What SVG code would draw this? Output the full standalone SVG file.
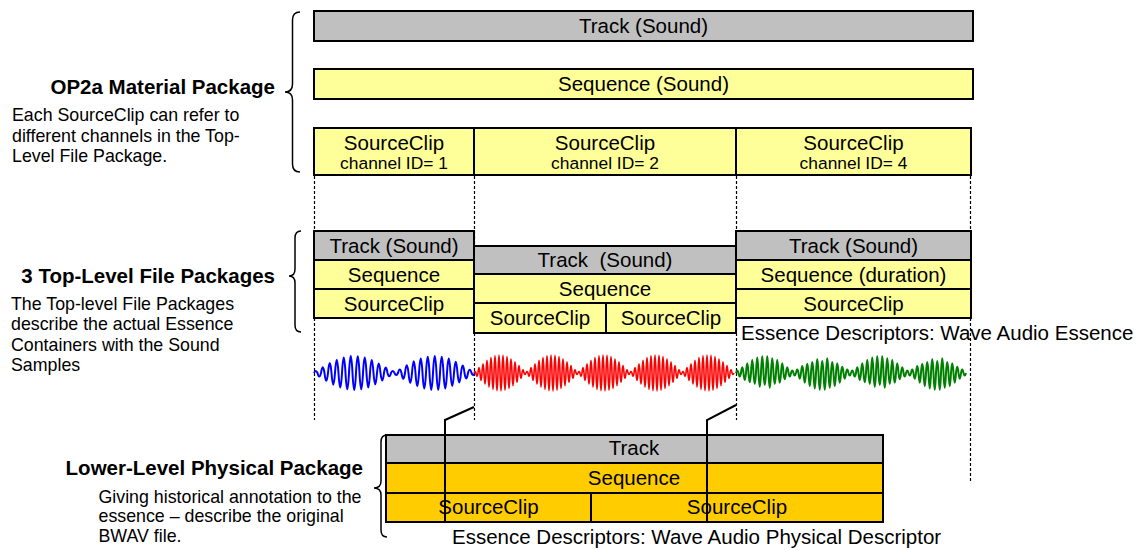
<svg xmlns="http://www.w3.org/2000/svg" width="1143" height="550" viewBox="0 0 1143 550">
<style>
.g{fill:#C0C0C0;stroke:#000;stroke-width:2}
.y{fill:#FFFF99;stroke:#000;stroke-width:2}
.o{fill:#FFCC00;stroke:#000;stroke-width:2}
.t{font-family:"Liberation Sans",Arial,sans-serif;font-size:20.5px;fill:#000;text-anchor:middle}
.s{font-family:"Liberation Sans",Arial,sans-serif;font-size:17.4px;fill:#000;text-anchor:middle}
.h{font-family:"Liberation Sans",Arial,sans-serif;font-size:20.5px;font-weight:bold;fill:#000;text-anchor:end}
.b{font-family:"Liberation Sans",Arial,sans-serif;font-size:17.8px;fill:#000}
.e{font-family:"Liberation Sans",Arial,sans-serif;font-size:20.5px;fill:#000}
.br{fill:none;stroke:#000;stroke-width:1.5}
.d{fill:none;stroke:#000;stroke-width:1.2;stroke-dasharray:3,2}
.k{fill:none;stroke:#000;stroke-width:2}
.w{fill:none;stroke-width:2;stroke-linejoin:round}
</style>
<defs>
<path id="hb" d="M0,0 q1.75,-4 3.5,0 q1.75,7 3.5,0 q1.75,-11.5 3.5,0 q1.75,15.7 3.5,0 q1.75,-19.8 3.5,0 q1.75,23.4 3.5,0 q1.75,-26.6 3.5,0 q1.75,29.1 3.5,0 q1.75,-31.2 3.5,0 q1.75,32.7 3.5,0 q1.75,-33.8 3.5,0 q1.75,34 3.5,0 q1.75,-33.6 3.5,0 q1.75,32.7 3.5,0 q1.75,-31 3.5,0 q1.75,28.9 3.5,0 q1.75,-26.1 3.5,0 q1.75,22.7 3.5,0 q1.75,-19.1 3.5,0 q1.75,15.1 3.5,0 q1.75,-10.8 3.5,0 q1.75,6.4 3.5,0 q1.75,-4 3.5,0"/>
<path id="hr" d="M0,0 q1,-3 2,0 q1,6.5 2,0 q1,-10.7 2,0 q1,14.8 2,0 q1,-18.6 2,0 q1,22.2 2,0 q1,-25.5 2,0 q1,28.3 2,0 q1,-30.8 2,0 q1,32.8 2,0 q1,-34.4 2,0 q1,35.4 2,0 q1,-35.9 2,0 q1,35.9 2,0 q1,-35.4 2,0 q1,34.4 2,0 q1,-32.8 2,0 q1,30.8 2,0 q1,-28.3 2,0 q1,25.5 2,0 q1,-22.2 2,0 q1,18.6 2,0 q1,-14.8 2,0 q1,10.7 2,0 q1,-6.5 2,0 q1,3 2,0"/>
<path id="hg" d="M0,0 q1.25,-5 2.5,0 q1.25,6.9 2.5,0 q1.25,-11.4 2.5,0 q1.25,14.1 2.5,0 q1.25,-19.6 2.5,0 q1.25,18.6 2.5,0 q1.25,-26.4 2.5,0 q1.25,21.8 2.5,0 q1.25,-31.2 2.5,0 q1.25,27.8 2.5,0 q1.25,-33.7 2.5,0 q1.25,23.8 2.5,0 q1.25,-33.7 2.5,0 q1.25,29.4 2.5,0 q1.25,-29.6 2.5,0 q1.25,21.8 2.5,0 q1.25,-26.4 2.5,0 q1.25,19.7 2.5,0 q1.25,-19.6 2.5,0 q1.25,12.5 2.5,0 q1.25,-11.4 2.5,0 q1.25,6.9 2.5,0 q1.25,-5 2.5,0"/>
</defs>
<rect width="1143" height="550" fill="#fff"/>

<g id="connectors">
<line class="d" x1="314.5" y1="176" x2="314.5" y2="231"/>
<line class="d" x1="314.5" y1="318" x2="314.5" y2="420"/>
<line class="d" x1="474.5" y1="176" x2="474.5" y2="246"/>
<line class="d" x1="474.5" y1="333" x2="474.5" y2="420"/>
<line class="d" x1="736.5" y1="176" x2="736.5" y2="231"/>
<line class="d" x1="736.5" y1="318" x2="736.5" y2="420"/>
<line class="d" x1="970.5" y1="176" x2="970.5" y2="231"/>
<line class="d" x1="970.5" y1="318" x2="970.5" y2="482"/>
</g>

<g id="material-label">
<text class="h" x="275" y="94">OP2a Material Package</text>
<text class="b" x="12" y="120.5">Each SourceClip can refer to</text>
<text class="b" x="12" y="141.5">different channels in the Top-</text>
<text class="b" x="12" y="162">Level File Package.</text>
<path class="br" d="M300,12 Q292.5,12 292.5,20 V84 Q292.5,92 285,92 Q292.5,92 292.5,100 V164 Q292.5,172 300,172"/>
</g>

<g id="mp-track">
<rect class="g" x="314" y="11" width="659" height="30"/>
<text class="t" x="643.5" y="32.5">Track (Sound)</text>
</g>
<g id="mp-sequence">
<rect class="y" x="314" y="69" width="659" height="30"/>
<text class="t" x="643.5" y="91">Sequence (Sound)</text>
</g>
<g id="mp-clip1">
<rect class="y" x="314" y="128" width="160" height="47"/>
<text class="t" x="394" y="149.5">SourceClip</text>
<text class="s" x="394" y="169">channel ID= 1</text>
</g>
<g id="mp-clip2">
<rect class="y" x="474" y="128" width="262" height="47"/>
<text class="t" x="605" y="149.5">SourceClip</text>
<text class="s" x="605" y="169">channel ID= 2</text>
</g>
<g id="mp-clip3">
<rect class="y" x="736" y="128" width="235" height="47"/>
<text class="t" x="853.5" y="149.5">SourceClip</text>
<text class="s" x="853.5" y="169">channel ID= 4</text>
</g>

<g id="fp-label">
<text class="h" x="275" y="283">3 Top-Level File Packages</text>
<text class="b" x="11" y="309.5">The Top-level File Packages</text>
<text class="b" x="11" y="330">describe the actual Essence</text>
<text class="b" x="11" y="350.5">Containers with the Sound</text>
<text class="b" x="11" y="371">Samples</text>
<path class="br" d="M301,231 Q295,231 295,238 V269 Q295,276 289,276 Q295,276 295,283 V325 Q295,332 301,332"/>
</g>

<g id="fp1">
<rect class="g" x="314" y="231" width="160" height="29"/>
<text class="t" x="394" y="252.5">Track (Sound)</text>
<rect class="y" x="314" y="260" width="160" height="29"/>
<text class="t" x="394" y="281.5">Sequence</text>
<rect class="y" x="314" y="289" width="160" height="29"/>
<text class="t" x="394" y="310.5">SourceClip</text>
</g>
<g id="fp2">
<rect class="g" x="474" y="246" width="262" height="28"/>
<text class="t" x="605" y="267" xml:space="preserve">Track  (Sound)</text>
<rect class="y" x="474" y="274" width="262" height="29"/>
<text class="t" x="605" y="295.5">Sequence</text>
<rect class="y" x="474" y="303" width="132" height="30"/>
<text class="t" x="540" y="325">SourceClip</text>
<rect class="y" x="606" y="303" width="130" height="30"/>
<text class="t" x="671" y="325">SourceClip</text>
</g>
<g id="fp3">
<rect class="g" x="736" y="231" width="235" height="29"/>
<text class="t" x="853.5" y="252.5">Track (Sound)</text>
<rect class="y" x="736" y="260" width="235" height="29"/>
<text class="t" x="853.5" y="281.5">Sequence (duration)</text>
<rect class="y" x="736" y="289" width="235" height="29"/>
<text class="t" x="853.5" y="310.5">SourceClip</text>
<text class="e" x="741" y="340">Essence Descriptors: Wave Audio Essence</text>
</g>

<g id="waves">
<g class="w" stroke="#0000FF">
<use href="#hb" transform="translate(314,373)"/>
<use href="#hb" transform="translate(394.5,373) scale(1,-1)"/>
</g>
<g class="w" stroke="#FF0000" style="stroke-width:1.6">
<use href="#hr" transform="translate(474,373)"/>
<use href="#hr" transform="translate(526,373)"/>
<use href="#hr" transform="translate(578,373)"/>
<use href="#hr" transform="translate(630,373)"/>
<use href="#hr" transform="translate(682,373)"/>
</g>
<g class="w" stroke="#008000">
<use href="#hg" transform="translate(736,373)"/>
<use href="#hg" transform="translate(793.5,373) scale(1,-1)"/>
<use href="#hg" transform="translate(851,373)"/>
<use href="#hg" transform="translate(908.5,373) scale(1,-1)"/>
</g>
</g>

<g id="pp-label">
<text class="h" x="363" y="475">Lower-Level Physical Package</text>
<text class="b" x="98.5" y="503">Giving historical annotation to the</text>
<text class="b" x="98.5" y="522">essence – describe the original</text>
<text class="b" x="98.5" y="541.5">BWAV file.</text>
<path class="br" d="M387,435 Q381,435 381,442 V481 Q381,488 374,488 Q381,488 381,495 V530 Q381,537 387,537"/>
</g>

<g id="pp">
<rect class="g" x="386" y="435" width="497" height="28"/>
<text class="t" x="634" y="455">Track</text>
<rect class="o" x="386" y="463" width="497" height="30"/>
<text class="t" x="634" y="484.5">Sequence</text>
<rect class="o" x="386" y="493" width="205" height="29"/>
<text class="t" x="488.5" y="514">SourceClip</text>
<rect class="o" x="591" y="493" width="292" height="29"/>
<text class="t" x="737" y="514">SourceClip</text>
<text class="e" x="452" y="544">Essence Descriptors: Wave Audio Physical Descriptor</text>
</g>

<g id="links">
<polyline class="k" points="474,407 445,420 445,523"/>
<polyline class="k" points="736,405 707,420 707,523"/>
</g>
</svg>
